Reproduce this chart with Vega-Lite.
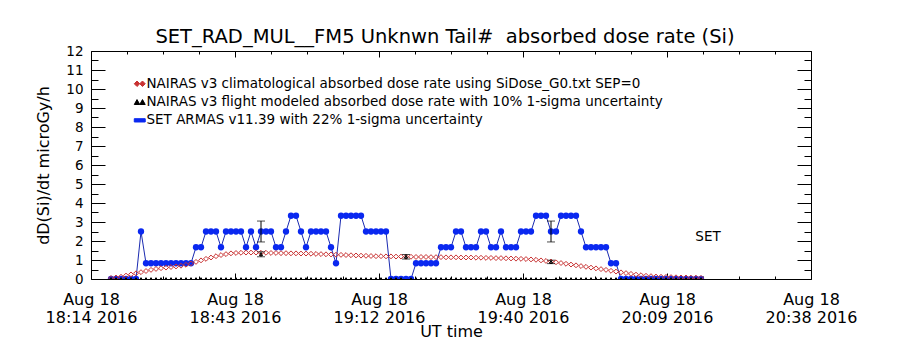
{
  "$schema": "https://vega.github.io/schema/vega-lite/v6.json",
  "width": 720,
  "height": 228,
  "autosize": {"type": "none"},
  "padding": {"left": 91, "top": 51, "right": 89, "bottom": 71},
  "background": "white",
  "title": {"text": "SET_RAD_MUL__FM5 Unknwn Tail#\u00a0 absorbed dose rate (Si)", "font": "DejaVu Sans", "fontSize": 19.5, "fontWeight": "normal", "color": "black", "anchor": "middle", "frame": "group", "baseline": "alphabetic", "offset": 7, "dx": -6, "dy": 25},
  "config": {
    "view": {"stroke": null},
    "font": "DejaVu Sans",
    "axis": {"grid": false, "domainColor": "black", "domainWidth": 1, "tickColor": "black", "tickWidth": 1, "labelColor": "black", "titleColor": "black", "labelFont": "DejaVu Sans", "titleFont": "DejaVu Sans", "titleFontWeight": "normal", "labelFlush": false, "labelOverlap": false, "labelBound": false},
    "legend": {"orient": "none", "legendX": 42, "legendY": 26, "title": null, "padding": 0,
      "labelFont": "DejaVu Sans", "labelFontSize": 13.5, "labelColor": "black", "labelLimit": 1000, "labelOffset": 0,
      "rowPadding": 3.3, "symbolSize": 120, "symbolStrokeWidth": 1, "symbolOpacity": 1}
  },
  "datasets": {
    "main": [
      {"t": "2016-08-18T18:18:00Z", "armas": 0, "nairas": 0.05, "flight": 0},
      {"t": "2016-08-18T18:19:00Z", "armas": 0, "nairas": 0.08, "flight": 0},
      {"t": "2016-08-18T18:20:00Z", "armas": 0, "nairas": 0.12, "flight": 0},
      {"t": "2016-08-18T18:21:00Z", "armas": 0, "nairas": 0.18, "flight": 0},
      {"t": "2016-08-18T18:22:00Z", "armas": 0, "nairas": 0.24, "flight": 0},
      {"t": "2016-08-18T18:23:00Z", "armas": 0, "nairas": 0.30, "flight": 0},
      {"t": "2016-08-18T18:24:00Z", "armas": 2.5, "nairas": 0.36, "flight": 0},
      {"t": "2016-08-18T18:25:00Z", "armas": 0.83, "nairas": 0.42, "flight": 0},
      {"t": "2016-08-18T18:26:00Z", "armas": 0.83, "nairas": 0.48, "flight": 0},
      {"t": "2016-08-18T18:27:00Z", "armas": 0.83, "nairas": 0.53, "flight": 0},
      {"t": "2016-08-18T18:28:00Z", "armas": 0.83, "nairas": 0.57, "flight": 0},
      {"t": "2016-08-18T18:29:00Z", "armas": 0.83, "nairas": 0.60, "flight": 0},
      {"t": "2016-08-18T18:30:00Z", "armas": 0.83, "nairas": 0.63, "flight": 0},
      {"t": "2016-08-18T18:31:00Z", "armas": 0.83, "nairas": 0.66, "flight": 0},
      {"t": "2016-08-18T18:32:00Z", "armas": 0.83, "nairas": 0.70, "flight": 0},
      {"t": "2016-08-18T18:33:00Z", "armas": 0.83, "nairas": 0.75, "flight": 0},
      {"t": "2016-08-18T18:34:00Z", "armas": 0.83, "nairas": 0.82, "flight": 0},
      {"t": "2016-08-18T18:35:00Z", "armas": 1.67, "nairas": 0.90, "flight": 0},
      {"t": "2016-08-18T18:36:00Z", "armas": 1.67, "nairas": 0.98, "flight": 0},
      {"t": "2016-08-18T18:37:00Z", "armas": 2.5, "nairas": 1.06, "flight": 0},
      {"t": "2016-08-18T18:38:00Z", "armas": 2.5, "nairas": 1.13, "flight": 0},
      {"t": "2016-08-18T18:39:00Z", "armas": 2.5, "nairas": 1.20, "flight": 0},
      {"t": "2016-08-18T18:40:00Z", "armas": 1.67, "nairas": 1.26, "flight": 0},
      {"t": "2016-08-18T18:41:00Z", "armas": 2.5, "nairas": 1.31, "flight": 0},
      {"t": "2016-08-18T18:42:00Z", "armas": 2.5, "nairas": 1.35, "flight": 0},
      {"t": "2016-08-18T18:43:00Z", "armas": 2.5, "nairas": 1.37, "flight": 0},
      {"t": "2016-08-18T18:44:00Z", "armas": 2.5, "nairas": 1.38, "flight": 0},
      {"t": "2016-08-18T18:45:00Z", "armas": 1.67, "nairas": 1.39, "flight": 0},
      {"t": "2016-08-18T18:46:00Z", "armas": 2.5, "nairas": 1.39, "flight": 0},
      {"t": "2016-08-18T18:47:00Z", "armas": 1.67, "nairas": 1.39, "flight": 0},
      {"t": "2016-08-18T18:48:00Z", "armas": 2.5, "nairas": 1.38, "flight": 1.3},
      {"t": "2016-08-18T18:49:00Z", "armas": 2.5, "nairas": 1.38, "flight": 0},
      {"t": "2016-08-18T18:50:00Z", "armas": 2.5, "nairas": 1.37, "flight": 0},
      {"t": "2016-08-18T18:51:00Z", "armas": 1.67, "nairas": 1.37, "flight": 0},
      {"t": "2016-08-18T18:52:00Z", "armas": 1.67, "nairas": 1.36, "flight": 0},
      {"t": "2016-08-18T18:53:00Z", "armas": 2.5, "nairas": 1.36, "flight": 0},
      {"t": "2016-08-18T18:54:00Z", "armas": 3.33, "nairas": 1.35, "flight": 0},
      {"t": "2016-08-18T18:55:00Z", "armas": 3.33, "nairas": 1.35, "flight": 0},
      {"t": "2016-08-18T18:56:00Z", "armas": 2.5, "nairas": 1.34, "flight": 0},
      {"t": "2016-08-18T18:57:00Z", "armas": 1.67, "nairas": 1.34, "flight": 0},
      {"t": "2016-08-18T18:58:00Z", "armas": 2.5, "nairas": 1.33, "flight": 0},
      {"t": "2016-08-18T18:59:00Z", "armas": 2.5, "nairas": 1.32, "flight": 0},
      {"t": "2016-08-18T19:00:00Z", "armas": 2.5, "nairas": 1.31, "flight": 0},
      {"t": "2016-08-18T19:01:00Z", "armas": 2.5, "nairas": 1.30, "flight": 0},
      {"t": "2016-08-18T19:02:00Z", "armas": 1.67, "nairas": 1.29, "flight": 0},
      {"t": "2016-08-18T19:03:00Z", "armas": 0.83, "nairas": 1.28, "flight": 0},
      {"t": "2016-08-18T19:04:00Z", "armas": 3.33, "nairas": 1.27, "flight": 0},
      {"t": "2016-08-18T19:05:00Z", "armas": 3.33, "nairas": 1.26, "flight": 0},
      {"t": "2016-08-18T19:06:00Z", "armas": 3.33, "nairas": 1.25, "flight": 0},
      {"t": "2016-08-18T19:07:00Z", "armas": 3.33, "nairas": 1.24, "flight": 0},
      {"t": "2016-08-18T19:08:00Z", "armas": 3.33, "nairas": 1.23, "flight": 0},
      {"t": "2016-08-18T19:09:00Z", "armas": 2.5, "nairas": 1.22, "flight": 0},
      {"t": "2016-08-18T19:10:00Z", "armas": 2.5, "nairas": 1.21, "flight": 0},
      {"t": "2016-08-18T19:11:00Z", "armas": 2.5, "nairas": 1.20, "flight": 0},
      {"t": "2016-08-18T19:12:00Z", "armas": 2.5, "nairas": 1.20, "flight": 0},
      {"t": "2016-08-18T19:13:00Z", "armas": 2.5, "nairas": 1.19, "flight": 0},
      {"t": "2016-08-18T19:14:00Z", "armas": 0, "nairas": 1.19, "flight": 0},
      {"t": "2016-08-18T19:15:00Z", "armas": 0, "nairas": 1.18, "flight": 0},
      {"t": "2016-08-18T19:16:00Z", "armas": 0, "nairas": 1.18, "flight": 0},
      {"t": "2016-08-18T19:17:00Z", "armas": 0, "nairas": 1.17, "flight": 1.17},
      {"t": "2016-08-18T19:18:00Z", "armas": 0, "nairas": 1.17, "flight": 0},
      {"t": "2016-08-18T19:19:00Z", "armas": 0.83, "nairas": 1.16, "flight": 0},
      {"t": "2016-08-18T19:20:00Z", "armas": 0.83, "nairas": 1.16, "flight": 0},
      {"t": "2016-08-18T19:21:00Z", "armas": 0.83, "nairas": 1.16, "flight": 0},
      {"t": "2016-08-18T19:22:00Z", "armas": 0.83, "nairas": 1.15, "flight": 0},
      {"t": "2016-08-18T19:23:00Z", "armas": 0.83, "nairas": 1.15, "flight": 0},
      {"t": "2016-08-18T19:24:00Z", "armas": 1.67, "nairas": 1.15, "flight": 0},
      {"t": "2016-08-18T19:25:00Z", "armas": 1.67, "nairas": 1.14, "flight": 0},
      {"t": "2016-08-18T19:26:00Z", "armas": 1.67, "nairas": 1.14, "flight": 0},
      {"t": "2016-08-18T19:27:00Z", "armas": 2.5, "nairas": 1.14, "flight": 0},
      {"t": "2016-08-18T19:28:00Z", "armas": 2.5, "nairas": 1.13, "flight": 0},
      {"t": "2016-08-18T19:29:00Z", "armas": 1.67, "nairas": 1.13, "flight": 0},
      {"t": "2016-08-18T19:30:00Z", "armas": 1.67, "nairas": 1.13, "flight": 0},
      {"t": "2016-08-18T19:31:00Z", "armas": 1.67, "nairas": 1.12, "flight": 0},
      {"t": "2016-08-18T19:32:00Z", "armas": 2.5, "nairas": 1.12, "flight": 0},
      {"t": "2016-08-18T19:33:00Z", "armas": 2.5, "nairas": 1.11, "flight": 0},
      {"t": "2016-08-18T19:34:00Z", "armas": 1.67, "nairas": 1.11, "flight": 0},
      {"t": "2016-08-18T19:35:00Z", "armas": 1.67, "nairas": 1.10, "flight": 0},
      {"t": "2016-08-18T19:36:00Z", "armas": 2.5, "nairas": 1.10, "flight": 0},
      {"t": "2016-08-18T19:37:00Z", "armas": 1.67, "nairas": 1.09, "flight": 0},
      {"t": "2016-08-18T19:38:00Z", "armas": 1.67, "nairas": 1.08, "flight": 0},
      {"t": "2016-08-18T19:39:00Z", "armas": 1.67, "nairas": 1.07, "flight": 0},
      {"t": "2016-08-18T19:40:00Z", "armas": 2.5, "nairas": 1.06, "flight": 0},
      {"t": "2016-08-18T19:41:00Z", "armas": 2.5, "nairas": 1.05, "flight": 0},
      {"t": "2016-08-18T19:42:00Z", "armas": 2.5, "nairas": 1.03, "flight": 0},
      {"t": "2016-08-18T19:43:00Z", "armas": 3.33, "nairas": 1.01, "flight": 0},
      {"t": "2016-08-18T19:44:00Z", "armas": 3.33, "nairas": 0.98, "flight": 0},
      {"t": "2016-08-18T19:45:00Z", "armas": 3.33, "nairas": 0.95, "flight": 0},
      {"t": "2016-08-18T19:46:00Z", "armas": 2.5, "nairas": 0.92, "flight": 0.9},
      {"t": "2016-08-18T19:47:00Z", "armas": 2.5, "nairas": 0.88, "flight": 0},
      {"t": "2016-08-18T19:48:00Z", "armas": 3.33, "nairas": 0.84, "flight": 0},
      {"t": "2016-08-18T19:49:00Z", "armas": 3.33, "nairas": 0.80, "flight": 0},
      {"t": "2016-08-18T19:50:00Z", "armas": 3.33, "nairas": 0.76, "flight": 0},
      {"t": "2016-08-18T19:51:00Z", "armas": 3.33, "nairas": 0.72, "flight": 0},
      {"t": "2016-08-18T19:52:00Z", "armas": 2.5, "nairas": 0.68, "flight": 0},
      {"t": "2016-08-18T19:53:00Z", "armas": 1.67, "nairas": 0.64, "flight": 0},
      {"t": "2016-08-18T19:54:00Z", "armas": 1.67, "nairas": 0.60, "flight": 0},
      {"t": "2016-08-18T19:55:00Z", "armas": 1.67, "nairas": 0.56, "flight": 0},
      {"t": "2016-08-18T19:56:00Z", "armas": 1.67, "nairas": 0.52, "flight": 0},
      {"t": "2016-08-18T19:57:00Z", "armas": 1.67, "nairas": 0.48, "flight": 0},
      {"t": "2016-08-18T19:58:00Z", "armas": 0.83, "nairas": 0.43, "flight": 0},
      {"t": "2016-08-18T19:59:00Z", "armas": 0.83, "nairas": 0.39, "flight": 0},
      {"t": "2016-08-18T20:00:00Z", "armas": 0, "nairas": 0.35, "flight": 0},
      {"t": "2016-08-18T20:01:00Z", "armas": 0, "nairas": 0.31, "flight": 0},
      {"t": "2016-08-18T20:02:00Z", "armas": 0, "nairas": 0.27, "flight": 0},
      {"t": "2016-08-18T20:03:00Z", "armas": 0, "nairas": 0.23, "flight": 0},
      {"t": "2016-08-18T20:04:00Z", "armas": 0, "nairas": 0.20, "flight": 0},
      {"t": "2016-08-18T20:05:00Z", "armas": 0, "nairas": 0.17, "flight": 0},
      {"t": "2016-08-18T20:06:00Z", "armas": 0, "nairas": 0.15, "flight": 0},
      {"t": "2016-08-18T20:07:00Z", "armas": 0, "nairas": 0.13, "flight": 0},
      {"t": "2016-08-18T20:08:00Z", "armas": 0, "nairas": 0.12, "flight": 0},
      {"t": "2016-08-18T20:09:00Z", "armas": 0, "nairas": 0.11, "flight": 0},
      {"t": "2016-08-18T20:10:00Z", "armas": 0, "nairas": 0.10, "flight": 0},
      {"t": "2016-08-18T20:11:00Z", "armas": 0, "nairas": 0.09, "flight": 0},
      {"t": "2016-08-18T20:12:00Z", "armas": 0, "nairas": 0.08, "flight": 0},
      {"t": "2016-08-18T20:13:00Z", "armas": 0, "nairas": 0.08, "flight": 0},
      {"t": "2016-08-18T20:14:00Z", "armas": 0, "nairas": 0.07, "flight": 0},
      {"t": "2016-08-18T20:15:00Z", "armas": 0, "nairas": 0.07, "flight": 0},
      {"t": "2016-08-18T20:16:00Z", "armas": 0, "nairas": 0.06, "flight": 0}
    ],
    "errs": [
      {"t": "2016-08-18T18:48:00Z", "series": "SET ARMAS", "lo": 1.95, "hi": 3.05},
      {"t": "2016-08-18T19:46:00Z", "series": "SET ARMAS", "lo": 1.95, "hi": 3.05},
      {"t": "2016-08-18T18:48:00Z", "series": "NAIRAS flight", "lo": 1.17, "hi": 1.43},
      {"t": "2016-08-18T19:17:00Z", "series": "NAIRAS flight", "lo": 1.05, "hi": 1.29},
      {"t": "2016-08-18T19:46:00Z", "series": "NAIRAS flight", "lo": 0.81, "hi": 0.99}
    ],
    "notes": [
      {"t": "2016-08-18T20:17:24Z", "y": 2.2, "label": "SET"}
    ]
  },
  "layer": [
    {
      "data": {"name": "main"},
      "mark": {"type": "line", "color": "#1a2ab0", "strokeWidth": 1, "clip": true},
      "encoding": {
        "x": {"field": "t", "type": "temporal", "scale": {"type": "utc", "domain": [{"year": 2016, "month": 8, "date": 18, "hours": 18, "minutes": 14, "utc": true}, {"year": 2016, "month": 8, "date": 18, "hours": 20, "minutes": 38, "utc": true}]},
          "axis": {"orient": "bottom", "title": "UT time", "titleFontSize": 16, "titlePadding": -2,
            "values": [
              {"year": 2016, "month": 8, "date": 18, "hours": 18, "minutes": 14, "utc": true},
              {"year": 2016, "month": 8, "date": 18, "hours": 18, "minutes": 42, "seconds": 48, "utc": true},
              {"year": 2016, "month": 8, "date": 18, "hours": 19, "minutes": 11, "seconds": 36, "utc": true},
              {"year": 2016, "month": 8, "date": 18, "hours": 19, "minutes": 40, "seconds": 24, "utc": true},
              {"year": 2016, "month": 8, "date": 18, "hours": 20, "minutes": 9, "seconds": 12, "utc": true},
              {"year": 2016, "month": 8, "date": 18, "hours": 20, "minutes": 38, "utc": true}
            ],
            "tickSize": -6, "labelPadding": 18, "labelFontSize": 16, "labelLineHeight": 18, "labelBaseline": "top",
            "labelExpr": "['Aug 18', utcFormat(datum.value + 30000, '%H:%M') + ' 2016']"}},
        "y": {"field": "armas", "type": "quantitative", "scale": {"domain": [0, 12], "nice": false, "zero": false},
          "axis": {"orient": "left", "title": "dD(Si)/dt microGy/h", "titleFontSize": 16, "titlePadding": 14,
            "values": [0, 1, 2, 3, 4, 5, 6, 7, 8, 9, 10, 11, 12], "tickSize": -14, "labelPadding": 22, "labelFontSize": 13.5}}
      }
    },
    {
      "data": {"name": "main"},
      "mark": {"type": "point", "shape": "circle", "filled": true, "size": 40, "opacity": 1, "clip": true},
      "encoding": {
        "x": {"field": "t", "type": "temporal", "scale": {"type": "utc"},
          "axis": {"orient": "top", "title": null, "labels": false, "tickSize": -6,
            "values": [
              {"year": 2016, "month": 8, "date": 18, "hours": 18, "minutes": 14, "utc": true},
              {"year": 2016, "month": 8, "date": 18, "hours": 18, "minutes": 42, "seconds": 48, "utc": true},
              {"year": 2016, "month": 8, "date": 18, "hours": 19, "minutes": 11, "seconds": 36, "utc": true},
              {"year": 2016, "month": 8, "date": 18, "hours": 19, "minutes": 40, "seconds": 24, "utc": true},
              {"year": 2016, "month": 8, "date": 18, "hours": 20, "minutes": 9, "seconds": 12, "utc": true},
              {"year": 2016, "month": 8, "date": 18, "hours": 20, "minutes": 38, "utc": true}
            ]}},
        "y": {"field": "armas", "type": "quantitative",
          "axis": {"orient": "right", "title": null, "labels": false, "tickSize": -14, "values": [0, 1, 2, 3, 4, 5, 6, 7, 8, 9, 10, 11, 12]}},
        "color": {"datum": "SET ARMAS v11.39 with 22% 1-sigma uncertainty",
          "scale": {"domain": ["NAIRAS v3 climatological absorbed dose rate using SiDose_G0.txt SEP=0", "NAIRAS v3 flight modeled absorbed dose rate with 10% 1-sigma uncertainty", "SET ARMAS v11.39 with 22% 1-sigma uncertainty"], "range": ["#c83232", "black", "#0a28f0"]},
          "legend": {"symbolType": "M-1,-0.3H1V0.3H-1Z",
            "encode": {"symbols": {"update": {
              "shape": {"signal": "datum.index === 0 ? 'M-1,0L-0.5,-0.5L0,0L-0.5,0.5Z M0,0L0.5,-0.5L1,0L0.5,0.5Z' : datum.index === 1 ? 'M-1,0.45L-0.5,-0.45L0,0.45Z M0,0.45L0.5,-0.45L1,0.45Z' : 'M-1,-0.3H1V0.3H-1Z'"},
              "fill": {"signal": "datum.index === 2 ? '#0a28f0' : 'transparent'"},
              "stroke": {"signal": "datum.index === 0 ? '#c83232' : datum.index === 1 ? 'black' : '#0a28f0'"},
              "strokeWidth": {"value": 1}}}}}}
      }
    },
    {
      "data": {"name": "main"},
      "mark": {"type": "point", "shape": "diamond", "filled": false, "size": 24, "strokeWidth": 1, "opacity": 1, "clip": true},
      "encoding": {
        "x": {"field": "t", "type": "temporal", "scale": {"type": "utc"},
          "axis": {"orient": "bottom", "title": null, "labels": false, "domain": false, "tickSize": -3,
            "values": [
              {"year": 2016, "month": 8, "date": 18, "hours": 18, "minutes": 21, "seconds": 12, "utc": true},
              {"year": 2016, "month": 8, "date": 18, "hours": 18, "minutes": 28, "seconds": 24, "utc": true},
              {"year": 2016, "month": 8, "date": 18, "hours": 18, "minutes": 35, "seconds": 36, "utc": true},
              {"year": 2016, "month": 8, "date": 18, "hours": 18, "minutes": 50, "utc": true},
              {"year": 2016, "month": 8, "date": 18, "hours": 18, "minutes": 57, "seconds": 12, "utc": true},
              {"year": 2016, "month": 8, "date": 18, "hours": 19, "minutes": 4, "seconds": 24, "utc": true},
              {"year": 2016, "month": 8, "date": 18, "hours": 19, "minutes": 18, "seconds": 48, "utc": true},
              {"year": 2016, "month": 8, "date": 18, "hours": 19, "minutes": 26, "utc": true},
              {"year": 2016, "month": 8, "date": 18, "hours": 19, "minutes": 33, "seconds": 12, "utc": true},
              {"year": 2016, "month": 8, "date": 18, "hours": 19, "minutes": 47, "seconds": 36, "utc": true},
              {"year": 2016, "month": 8, "date": 18, "hours": 19, "minutes": 54, "seconds": 48, "utc": true},
              {"year": 2016, "month": 8, "date": 18, "hours": 20, "minutes": 2, "utc": true},
              {"year": 2016, "month": 8, "date": 18, "hours": 20, "minutes": 16, "seconds": 24, "utc": true},
              {"year": 2016, "month": 8, "date": 18, "hours": 20, "minutes": 23, "seconds": 36, "utc": true},
              {"year": 2016, "month": 8, "date": 18, "hours": 20, "minutes": 30, "seconds": 48, "utc": true}
            ]}},
        "y": {"field": "nairas", "type": "quantitative",
          "axis": {"orient": "left", "title": null, "labels": false, "domain": false, "tickSize": -7, "values": [0.5, 1.5, 2.5, 3.5, 4.5, 5.5, 6.5, 7.5, 8.5, 9.5, 10.5, 11.5]}},
        "color": {"datum": "NAIRAS v3 climatological absorbed dose rate using SiDose_G0.txt SEP=0"}
      }
    },
    {
      "data": {"name": "errs"},
      "mark": {"type": "errorbar", "ticks": true, "size": 8, "thickness": 1, "color": "black"},
      "encoding": {
        "x": {"field": "t", "type": "temporal", "scale": {"type": "utc"}, "axis": null},
        "y": {"field": "lo", "type": "quantitative", "axis": null},
        "y2": {"field": "hi"}
      }
    },
    {
      "data": {"name": "main"},
      "mark": {"type": "point", "shape": "triangle-up", "filled": false, "size": 10, "strokeWidth": 1, "opacity": 1, "clip": true},
      "encoding": {
        "x": {"field": "t", "type": "temporal", "scale": {"type": "utc"},
          "axis": {"orient": "top", "title": null, "labels": false, "domain": false, "tickSize": -3,
            "values": [
              {"year": 2016, "month": 8, "date": 18, "hours": 18, "minutes": 21, "seconds": 12, "utc": true},
              {"year": 2016, "month": 8, "date": 18, "hours": 18, "minutes": 28, "seconds": 24, "utc": true},
              {"year": 2016, "month": 8, "date": 18, "hours": 18, "minutes": 35, "seconds": 36, "utc": true},
              {"year": 2016, "month": 8, "date": 18, "hours": 18, "minutes": 50, "utc": true},
              {"year": 2016, "month": 8, "date": 18, "hours": 18, "minutes": 57, "seconds": 12, "utc": true},
              {"year": 2016, "month": 8, "date": 18, "hours": 19, "minutes": 4, "seconds": 24, "utc": true},
              {"year": 2016, "month": 8, "date": 18, "hours": 19, "minutes": 18, "seconds": 48, "utc": true},
              {"year": 2016, "month": 8, "date": 18, "hours": 19, "minutes": 26, "utc": true},
              {"year": 2016, "month": 8, "date": 18, "hours": 19, "minutes": 33, "seconds": 12, "utc": true},
              {"year": 2016, "month": 8, "date": 18, "hours": 19, "minutes": 47, "seconds": 36, "utc": true},
              {"year": 2016, "month": 8, "date": 18, "hours": 19, "minutes": 54, "seconds": 48, "utc": true},
              {"year": 2016, "month": 8, "date": 18, "hours": 20, "minutes": 2, "utc": true},
              {"year": 2016, "month": 8, "date": 18, "hours": 20, "minutes": 16, "seconds": 24, "utc": true},
              {"year": 2016, "month": 8, "date": 18, "hours": 20, "minutes": 23, "seconds": 36, "utc": true},
              {"year": 2016, "month": 8, "date": 18, "hours": 20, "minutes": 30, "seconds": 48, "utc": true}
            ]}},
        "y": {"field": "flight", "type": "quantitative",
          "axis": {"orient": "right", "title": null, "labels": false, "domain": false, "tickSize": -7, "values": [0.5, 1.5, 2.5, 3.5, 4.5, 5.5, 6.5, 7.5, 8.5, 9.5, 10.5, 11.5]}},
        "color": {"datum": "NAIRAS v3 flight modeled absorbed dose rate with 10% 1-sigma uncertainty"}
      }
    },
    {
      "data": {"name": "notes"},
      "mark": {"type": "text", "font": "DejaVu Sans", "fontSize": 13.5, "color": "black", "align": "center", "baseline": "middle"},
      "encoding": {
        "x": {"field": "t", "type": "temporal", "scale": {"type": "utc"}, "axis": null},
        "y": {"field": "y", "type": "quantitative", "axis": null},
        "text": {"field": "label"}
      }
    }
  ],
  "resolve": {"axis": {"x": "independent", "y": "independent"}}
}
